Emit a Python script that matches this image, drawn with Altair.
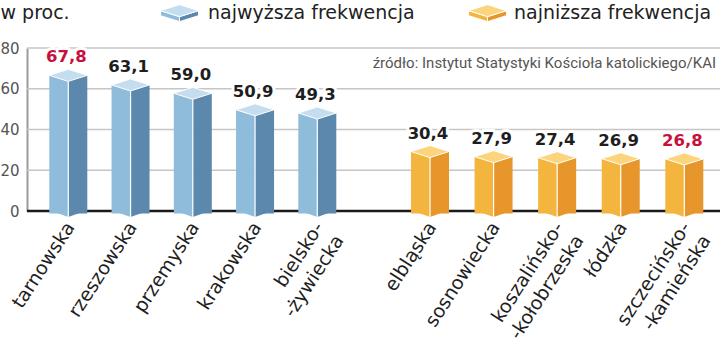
import altair as alt
import pandas as pd

# ---- data ----
series_names = ["najwyższa frekwencja", "najniższa frekwencja"]
high_names = ["tarnowska", "rzeszowska", "przemyska", "krakowska", "bielsko-\n-żywiecka"]
high_values = [67.8, 63.1, 59.0, 50.9, 49.3]
low_names = ["elbląska", "sosnowiecka", "koszalińsko-\n-kołobrzeska", "łódzka", "szczecińsko-\n-kamieńska"]
low_values = [30.4, 27.9, 27.4, 26.9, 26.8]
y_ticks = [0, 20, 40, 60, 80]
unit_label = "w proc."
source = "źródło: Instytut Statystyki Kościoła katolickiego/KAI"

all_values = high_values + low_values


def frame(names, values):
    return pd.DataFrame({
        "diecezja": names,
        "value": values,
        "label": [f"{v:.1f}".replace(".", ",") for v in values],
        "extreme": [v in (max(all_values), min(all_values)) for v in values],
    })


high_df = frame(high_names, high_values)
low_df = frame(low_names, low_values)

BLUE = {"top": "#c4ddef", "left": "#8fbcdb", "right": "#5c88ad"}
ORANGE = {"top": "#fbd47c", "left": "#f4b53f", "right": "#e6962b"}
RED = "#c8103c"
DARK = "#1e1e1e"

# custom symbol paths (unit square -1..1, scaled by sqrt(size)/2)
BOX_SIZE = 1444
RHOMBUS = "M-1,0 L0,-0.316 L1,0 L0,0.316 Z"
TRI_L = "M-1,-0.04 L0,-0.04 L0,0.316 Z"
TRI_R = "M0,-0.04 L1,-0.04 L0,0.316 Z"
ICON_TOP = "M-1,-0.13 L0,-0.446 L1,-0.13 L0,0.186 Z"
ICON_L = "M-1,-0.13 L0,0.186 L0,0.449 L-1,0.133 Z"
ICON_R = "M1,-0.13 L0,0.186 L0,0.449 L1,0.133 Z"

Y_SCALE = alt.Scale(domain=[0, 80], nice=False)
Y_AXIS = alt.Axis(
    values=y_ticks, grid=False,
    domainColor="#9b9b9b", domainWidth=2, ticks=False,
    labelPadding=8, labelFont="DejaVu Sans", labelFontSize=15, labelColor="#555555",
    title=unit_label, titleAngle=0, titleAlign="left", titleBaseline="alphabetic",
    titleX=-27, titleY=-30, titleFont="DejaVu Sans", titleFontSize=19,
    titleFontWeight="normal", titleColor="#222222",
)
Y = alt.Y("value:Q", scale=Y_SCALE, axis=Y_AXIS)
Y0 = alt.YDatum(0, scale=Y_SCALE, axis=Y_AXIS)


def group(df, rng, col):
    X = alt.X("diecezja:N", sort=None, axis=None,
              scale=alt.Scale(type="point", range=rng, padding=0))
    base = alt.Chart(df).encode(x=X)
    left = base.mark_bar(width=19, xOffset=-9.5, yOffset=2.5, color=col["left"]).encode(y=Y)
    right = base.mark_bar(width=19, xOffset=9.5, yOffset=2.5, color=col["right"]).encode(y=Y)
    bot_l = base.mark_point(shape=TRI_L, size=BOX_SIZE, filled=True, opacity=1,
                            color=col["left"], strokeWidth=0).encode(y=Y0)
    bot_r = base.mark_point(shape=TRI_R, size=BOX_SIZE, filled=True, opacity=1,
                            color=col["right"], strokeWidth=0).encode(y=Y0)
    edge = base.mark_rule(color="white", strokeWidth=1.2, yOffset=8.5, y2Offset=6).encode(
        y=Y, y2=alt.Y2Datum(0))
    top = base.mark_point(shape=RHOMBUS, size=BOX_SIZE, filled=True, opacity=1,
                          color=col["top"], stroke="white", strokeWidth=1,
                          yOffset=2.5).encode(y=Y)
    mask = base.mark_text(font="DejaVu Sans", fontWeight="bold", fontSize=16.5,
                          baseline="alphabetic", dy=-10.5, dx=-2, color="white",
                          stroke="white", strokeWidth=6, strokeJoin="round").encode(
        y=Y, text="label:N")
    vals = base.mark_text(font="DejaVu Sans", fontWeight="bold", fontSize=16.5,
                          baseline="alphabetic", dy=-10.5, dx=-2).encode(
        y=Y, text="label:N",
        color=alt.condition(alt.datum.extreme, alt.value(RED), alt.value(DARK)))
    names = base.mark_text(angle=303, align="right", baseline="middle", lineBreak="\n",
                           font="DejaVu Sans", fontSize=19, lineHeight=24,
                           color="#1e1e1e", xOffset=2, yOffset=13).encode(
        y=Y0, text="diecezja:N")
    return alt.layer(left, right, bot_l, bot_r, edge, top, mask, vals, names)


g_high = group(high_df, [41.3, 290.3], BLUE)
g_low = group(low_df, [403, 657.3], ORANGE)

grid = alt.Chart(pd.DataFrame({"t": y_ticks[1:]})).mark_rule(
    color="#c6c6c6", strokeWidth=1.5).encode(
    y=alt.Y("t:Q", scale=Y_SCALE, axis=Y_AXIS))

baseline = alt.Chart(pd.DataFrame({"z": [0]})).mark_rule(
    color="#1a1a1a", strokeWidth=2.5).encode(y=Y0)

leg_df = pd.DataFrame({"seria": series_names})
legend_x = [133, 441]
label_offset = [9, 7]


def legend_entry(path, key, i, show_label):
    return alt.Chart(leg_df).transform_filter("false").mark_point(
        shape=path, filled=True, opacity=1).encode(
        color=alt.Color(
            "seria:N", sort=None,
            scale=alt.Scale(domain=series_names, range=[BLUE[key], ORANGE[key]]),
            legend=alt.Legend(
                title=None, orient="none", legendX=legend_x[i], legendY=-54.4,
                values=[series_names[i]],
                symbolType=path, symbolSize=BOX_SIZE,
                symbolStrokeColor="white", symbolStrokeWidth=1, symbolOpacity=1,
                labelFont="DejaVu Sans", labelFontSize=19, labelColor="#222222",
                labelOffset=label_offset[i], labelLimit=400, padding=0,
                labelExpr="datum.label" if show_label else "''",
            ),
        )
    )


legend_layers = []
for i in range(2):
    legend_layers.append(legend_entry(ICON_L, "left", i, False))
    legend_layers.append(legend_entry(ICON_R, "right", i, False))
    legend_layers.append(legend_entry(ICON_TOP, "top", i, True))

src = alt.Chart(pd.DataFrame({"t": [source]})).mark_text(
    align="right", baseline="alphabetic", font="Roboto", fontSize=15, color="#555555"
).encode(x=alt.value(689), y=alt.value(19.7), text="t:N")

chart = alt.layer(grid, baseline, g_high, g_low, *legend_layers, src).resolve_scale(
    x="independent", color="independent"
).properties(
    width=693, height=163, autosize="none",
    padding={"left": 27, "top": 48, "right": 0, "bottom": 137},
).configure_view(stroke=None)

chart.save("out.html", embed_options={"renderer": "svg", "actions": False})
